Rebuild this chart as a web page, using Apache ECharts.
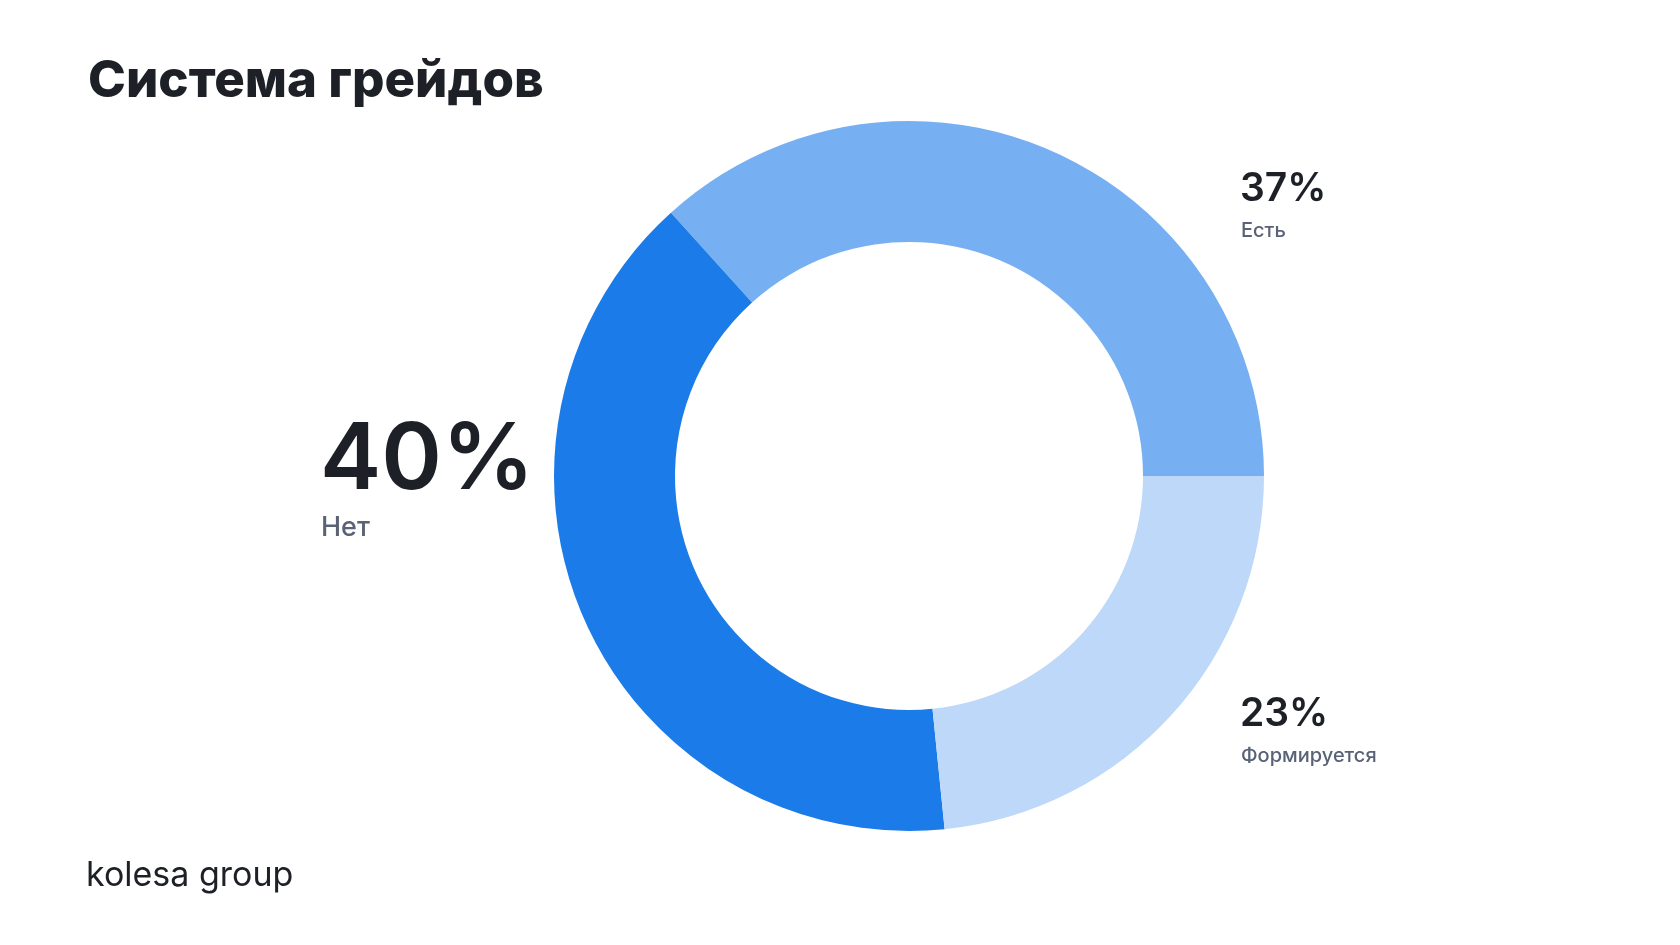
<!DOCTYPE html>
<html>
<head>
<meta charset="utf-8">
<script src="https://cdn.jsdelivr.net/npm/echarts@6/dist/echarts.min.js"></script>
<style>
html,body{margin:0;padding:0;background:#fff;}
#chart{width:1680px;height:945px;}
</style>
</head>
<body>
<div id="chart"></div>
<script>
const titleText = 'Система грейдов';
const brandText = 'kolesa group';
const categories = ['Есть', 'Нет', 'Формируется'];
const values = [36.7, 39.9, 23.4];
const colors = ['#77B0F2', '#1B7BE8', '#BDD8F8'];

const chart = echarts.init(document.getElementById('chart'), null, {renderer: 'canvas'});
const dark = '#1D2026';
const gray = '#5A6276';
const fam = 'Inter';

function pct(i) { return Math.round(values[i]) + '%'; }
function txt(x, y, text, size, weight, color, family) {
  return {type: 'text', left: x, top: y, style: {
    text: text, fontFamily: family || fam, fontSize: size, fontWeight: weight, fill: color
  }};
}

const option = {
  backgroundColor: '#ffffff',
  animation: false,
  series: [{
    type: 'pie',
    center: [909, 476],
    radius: [234, 355],
    startAngle: 0,
    clockwise: false,
    label: {show: false},
    labelLine: {show: false},
    emphasis: {disabled: true},
    itemStyle: {borderWidth: 0},
    data: categories.map((c, i) => ({name: c, value: values[i], itemStyle: {color: colors[i]}}))
  }],
  graphic: [
    txt(88, 56, titleText, 51, 800, dark),
    txt(320, 415, pct(1), 92, 600, dark),
    txt(321, 514, categories[1], 27, 500, gray),
    txt(1240, 170, pct(0), 39, 600, dark),
    txt(1241, 221, categories[0], 20, 500, gray),
    txt(1240, 695, pct(2), 39, 600, dark),
    txt(1241, 746, categories[2], 20, 500, gray),
    txt(86, 859, brandText, 34, 400, dark)
  ]
};
chart.setOption(option);
</script>
</body>
</html>
